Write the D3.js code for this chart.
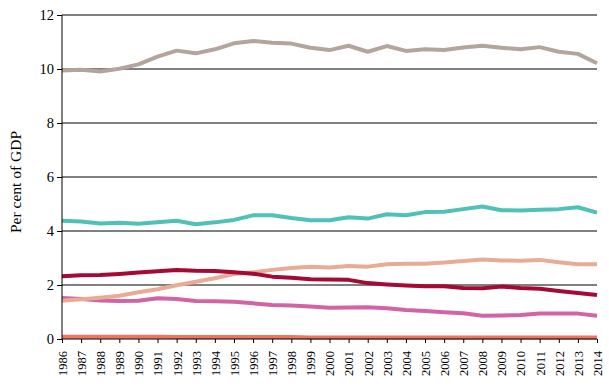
<!DOCTYPE html>
<html>
<head>
<style>
  body { margin: 0; background: #fff; }
  svg, svg text { font-family: "Liberation Serif", "Times New Roman", Times, serif !important; }
</style>
</head>
<body>
<svg width="609" height="388"></svg>
<script src="https://cdn.jsdelivr.net/npm/d3@7"></script>
<script>

    var years = d3.range(1986, 2015);
    var yTicks = [0, 2, 4, 6, 8, 10, 12];

    var grey = [9.94, 9.97, 9.91, 10.01, 10.17, 10.46, 10.68, 10.58, 10.73, 10.95, 11.04, 10.97, 10.94, 10.79, 10.70,
        10.86, 10.64, 10.85, 10.67, 10.73, 10.70, 10.80, 10.86, 10.79, 10.73, 10.81, 10.64, 10.56, 10.21];
    var teal = [4.38, 4.35, 4.28, 4.31, 4.27, 4.32, 4.38, 4.25, 4.32, 4.41, 4.58, 4.58, 4.48, 4.40, 4.40,
        4.51, 4.46, 4.62, 4.58, 4.70, 4.71, 4.81, 4.91, 4.77, 4.76, 4.79, 4.81, 4.88, 4.68];
    var darkRed = [2.32, 2.36, 2.37, 2.41, 2.46, 2.51, 2.56, 2.53, 2.52, 2.47, 2.42, 2.31, 2.27, 2.21, 2.20,
        2.19, 2.07, 2.02, 1.98, 1.95, 1.95, 1.89, 1.88, 1.94, 1.89, 1.86, 1.78, 1.70, 1.63];
    var peach = [1.42, 1.47, 1.53, 1.60, 1.73, 1.84, 1.99, 2.12, 2.25, 2.41, 2.47, 2.56, 2.63, 2.68, 2.65,
        2.70, 2.68, 2.77, 2.79, 2.79, 2.83, 2.89, 2.94, 2.91, 2.90, 2.93, 2.84, 2.77, 2.77];
    var pink = [1.52, 1.48, 1.43, 1.41, 1.42, 1.51, 1.48, 1.41, 1.40, 1.38, 1.32, 1.26, 1.24, 1.20, 1.16,
        1.17, 1.18, 1.14, 1.07, 1.04, 0.99, 0.95, 0.86, 0.87, 0.89, 0.94, 0.94, 0.94, 0.86];
    var coral = [0.08, 0.08, 0.08, 0.08, 0.08, 0.08, 0.07, 0.07, 0.07, 0.07, 0.07, 0.07, 0.07, 0.06, 0.06,
        0.06, 0.06, 0.06, 0.06, 0.06, 0.06, 0.06, 0.06, 0.06, 0.06, 0.06, 0.06, 0.06, 0.06];

    var series = [
        {values: coral, color: "#f07460"},
        {values: pink, color: "#d264a5"},
        {values: peach, color: "#e8ab96"},
        {values: darkRed, color: "#a50a35"},
        {values: teal, color: "#4fc1b7"},
        {values: grey, color: "#b3a59d"}
    ];

    var svg = d3.select("svg"),
        margin = {top: 15, right: 12, bottom: 49, left: 62},
        width = 609 - margin.left - margin.right,
        height = 388 - margin.top - margin.bottom;

    var g = svg.append("g").attr("transform", "translate(" + margin.left + "," + margin.top + ")");

    var x = d3.scaleLinear().domain([1986, 2014]).range([0, width]);
    var y = d3.scaleLinear().domain([0, 12]).range([height, 0]);

    // horizontal grid lines
    g.append("g")
        .selectAll("line")
        .data(yTicks.filter(function(d) { return d > 0; }))
        .enter().append("line")
        .attr("x1", 0).attr("x2", width)
        .attr("y1", function(d) { return y(d); })
        .attr("y2", function(d) { return y(d); })
        .attr("stroke", "#000").attr("stroke-width", 1);

    var line = d3.line()
        .x(function(d, i) { return x(years[i]); })
        .y(function(d) { return y(d); });

    g.selectAll(".series")
        .data(series)
        .enter().append("path")
        .attr("class", "series")
        .attr("d", function(d) { return line(d.values); })
        .attr("fill", "none")
        .attr("stroke", function(d) { return d.color; })
        .attr("stroke-width", 4)
        .attr("stroke-linejoin", "round");

    var yAxis = g.append("g")
        .call(d3.axisLeft(y).tickValues(yTicks).tickSize(5).tickPadding(3).tickFormat(d3.format("d")));
    yAxis.select(".domain").attr("stroke", "#000").attr("d", "M0," + height + "V0");
    yAxis.selectAll("text").attr("font-size", 14.5).attr("fill", "#000");

    var xAxis = g.append("g")
        .attr("transform", "translate(0," + height + ")")
        .call(d3.axisBottom(x).tickValues(years).tickSize(4).tickFormat(d3.format("d")));
    xAxis.select(".domain").attr("stroke", "#000").attr("d", "M0,0H" + width);
    xAxis.selectAll("text")
        .attr("font-size", 12.5)
        .attr("fill", "#000")
        .attr("transform", "rotate(-90)")
        .attr("text-anchor", "end")
        .attr("x", -12)
        .attr("y", 0)
        .attr("dy", "0.35em");

    svg.append("text")
        .attr("transform", "translate(21,182) rotate(-90)")
        .attr("text-anchor", "middle")
        .attr("font-size", 15.5)
        .attr("fill", "#000")
        .text("Per cent of GDP");

</script>
</body>
</html>
